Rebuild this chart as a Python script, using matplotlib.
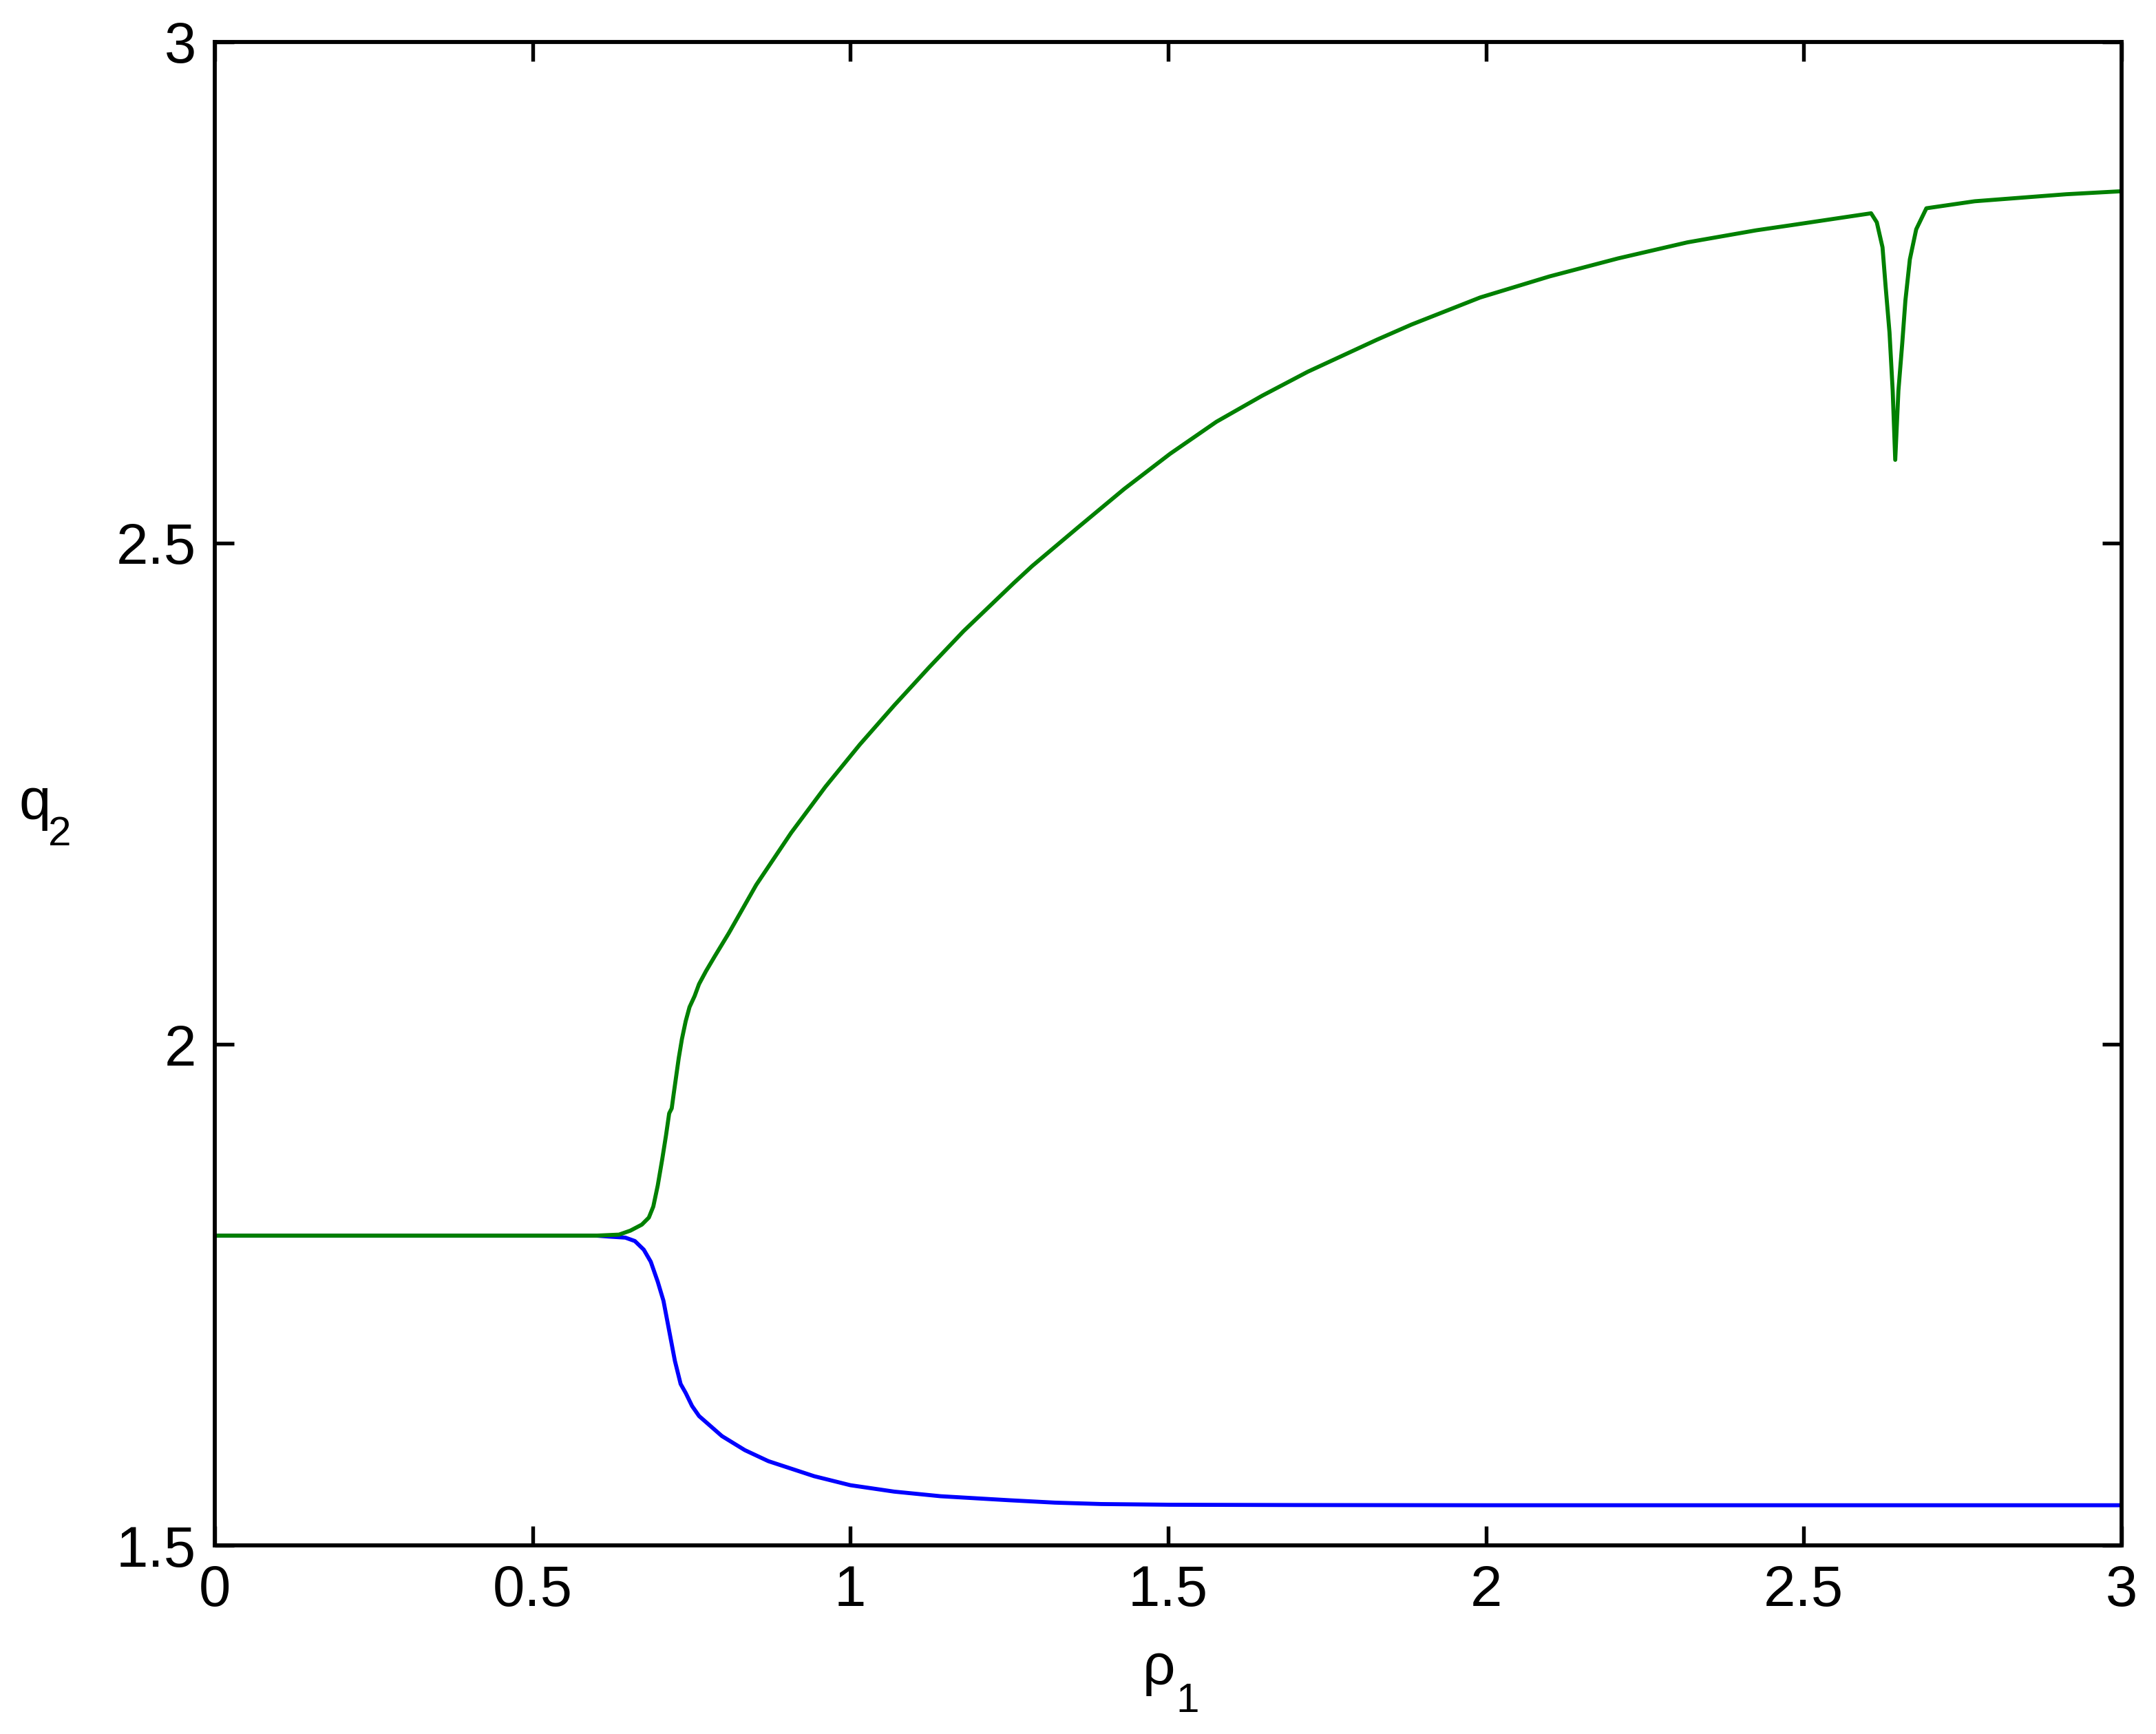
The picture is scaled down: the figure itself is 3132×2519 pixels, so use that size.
import numpy as np
import matplotlib
matplotlib.use('Agg')
import matplotlib.pyplot as plt

# upper branch (green)
rho_green = [0, 0.3, 0.6, 0.636, 0.654, 0.672, 0.683, 0.690, 0.697, 0.704,
             0.710, 0.715, 0.719, 0.722, 0.726, 0.730, 0.735, 0.741, 0.747, 0.755,
             0.762, 0.773, 0.787, 0.809, 0.852, 0.907, 0.961, 1.015, 1.069, 1.124,
             1.178, 1.257, 1.286, 1.359, 1.431, 1.503, 1.576, 1.648, 1.720, 1.829,
             1.883, 1.991, 2.100, 2.208, 2.317, 2.425, 2.479, 2.606, 2.615, 2.624,
             2.629, 2.635, 2.640, 2.644, 2.649, 2.655, 2.660, 2.667, 2.677, 2.693,
             2.769, 2.913, 3.0]
q_green = [1.809, 1.809, 1.809, 1.810, 1.814, 1.820, 1.827, 1.838, 1.859, 1.885,
           1.909, 1.931, 1.936, 1.950, 1.968, 1.986, 2.005, 2.023, 2.037, 2.048,
           2.060, 2.073, 2.088, 2.111, 2.159, 2.211, 2.257, 2.299, 2.338, 2.376,
           2.412, 2.460, 2.477, 2.516, 2.554, 2.589, 2.621, 2.647, 2.671, 2.703,
           2.718, 2.745, 2.766, 2.784, 2.800, 2.812, 2.817, 2.829, 2.820, 2.795,
           2.755, 2.710, 2.652, 2.583, 2.652, 2.699, 2.742, 2.783, 2.813, 2.834,
           2.841, 2.848, 2.851]

# lower branch (blue)
rho_blue = [0, 0.3, 0.6, 0.621, 0.646, 0.661, 0.675, 0.686, 0.697, 0.706,
            0.715, 0.724, 0.733, 0.741, 0.751, 0.762, 0.798, 0.834, 0.871, 0.943,
            1.0, 1.069, 1.142, 1.25, 1.322, 1.395, 1.503, 1.7, 2.0, 2.5, 3.0]
q_blue = [1.809, 1.809, 1.809, 1.808, 1.807, 1.8036, 1.795, 1.783, 1.763, 1.744,
          1.714, 1.684, 1.661, 1.652, 1.639, 1.629, 1.609, 1.595, 1.584, 1.569,
          1.560, 1.5536, 1.549, 1.545, 1.5426, 1.5412, 1.5405, 1.5402, 1.540, 1.540, 1.540]

xticks = [0, 0.5, 1, 1.5, 2, 2.5, 3]
xticklabels = ['0', '0.5', '1', '1.5', '2', '2.5', '3']
yticks = [1.5, 2, 2.5, 3]
yticklabels = ['1.5', '2', '2.5', '3']


def main():
    plt.rcParams['font.family'] = ['Liberation Sans', 'DejaVu Sans']

    f = plt.figure(figsize=(10.44, 8.397), dpi=300)
    ax = f.add_axes([0.0996, 0.1088, 0.8844, 0.8670])

    ax.plot(rho_blue, q_blue, color=(0, 0, 1), linewidth=1.4)
    ax.plot(rho_green, q_green, color=(0, 0.5, 0), linewidth=1.4)

    ax.set_xlim(0, 3)
    ax.set_ylim(1.5, 3)
    ax.set_xticks(xticks)
    ax.set_xticklabels(xticklabels)
    ax.set_yticks(yticks)
    ax.set_yticklabels(yticklabels)
    ax.tick_params(direction='in', length=6.8, width=1.3, labelsize=20,
                   top=True, right=True, pad=6.5)
    for sp in ax.spines.values():
        sp.set_linewidth(1.4)

    # axis labels with big, low subscripts (matlab style), horizontal q_2
    ax.text(-0.1027, 0.483, 'q', transform=ax.transAxes, fontsize=20,
            ha='left', va='baseline')
    ax.text(-0.0875, 0.4657, '2', transform=ax.transAxes, fontsize=14.5,
            ha='left', va='baseline')
    ax.text(0.4866, -0.0925, 'ρ', transform=ax.transAxes, fontsize=20,
            ha='left', va='baseline')
    ax.text(0.5040, -0.1108, '1', transform=ax.transAxes, fontsize=14.5,
            ha='left', va='baseline')

    plt.savefig('out.png', dpi=300)


if __name__ == "__main__":
    main()
